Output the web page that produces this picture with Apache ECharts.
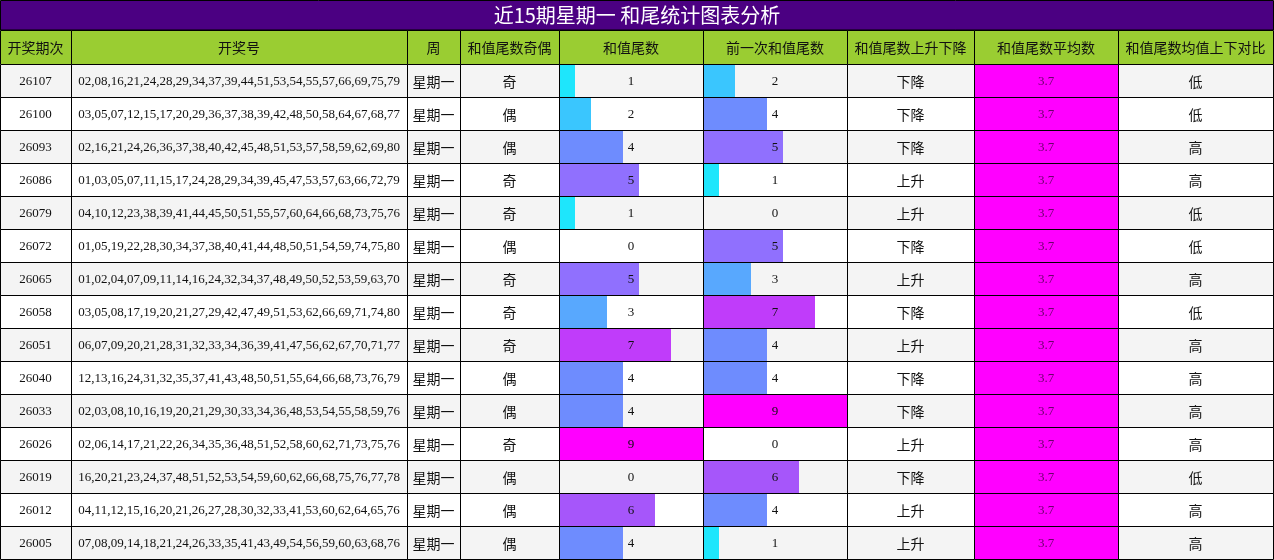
<!DOCTYPE html>
<html><head><meta charset="utf-8">
<script src="https://cdn.jsdelivr.net/npm/echarts@6/dist/echarts.min.js"></script>
<style>html,body{margin:0;padding:0;background:#fff}#c{width:1274px;height:560px}</style>
</head><body><div id="c"></div>
<script>
const headers=['开奖期次','开奖号','周','和值尾数奇偶','和值尾数','前一次和值尾数','和值尾数上升下降','和值尾数平均数','和值尾数均值上下对比'];
const periods=['26107','26100','26093','26086','26079','26072','26065','26058','26051','26040','26033','26026','26019','26012','26005'];
const numbers=['02,08,16,21,24,28,29,34,37,39,44,51,53,54,55,57,66,69,75,79','03,05,07,12,15,17,20,29,36,37,38,39,42,48,50,58,64,67,68,77','02,16,21,24,26,36,37,38,40,42,45,48,51,53,57,58,59,62,69,80','01,03,05,07,11,15,17,24,28,29,34,39,45,47,53,57,63,66,72,79','04,10,12,23,38,39,41,44,45,50,51,55,57,60,64,66,68,73,75,76','01,05,19,22,28,30,34,37,38,40,41,44,48,50,51,54,59,74,75,80','01,02,04,07,09,11,14,16,24,32,34,37,48,49,50,52,53,59,63,70','03,05,08,17,19,20,21,27,29,42,47,49,51,53,62,66,69,71,74,80','06,07,09,20,21,28,31,32,33,34,36,39,41,47,56,62,67,70,71,77','12,13,16,24,31,32,35,37,41,43,48,50,51,55,64,66,68,73,76,79','02,03,08,10,16,19,20,21,29,30,33,34,36,48,53,54,55,58,59,76','02,06,14,17,21,22,26,34,35,36,48,51,52,58,60,62,71,73,75,76','16,20,21,23,24,37,48,51,52,53,54,59,60,62,66,68,75,76,77,78','04,11,12,15,16,20,21,26,27,28,30,32,33,41,53,60,62,64,65,76','07,08,09,14,18,21,24,26,33,35,41,43,49,54,56,59,60,63,68,76'];
const weekday=Array(15).fill('星期一');
const parity=['奇','偶','偶','奇','奇','偶','奇','奇','奇','偶','偶','奇','偶','偶','偶'];
const tail=[1,2,4,5,1,0,5,3,7,4,4,9,0,6,4];
const prevTail=[2,4,5,1,0,5,3,7,4,4,9,0,6,4,1];
const trend=['下降','下降','下降','上升','上升','下降','上升','下降','上升','下降','下降','上升','下降','上升','上升'];
const avg=Array(15).fill('3.7');
const compare=['低','低','高','高','低','低','高','低','高','高','高','高','低','高','高'];

const edges=[0,71,407,460,559,703,847,974,1118,1273];
const TOP=64,ROWH=33,HEADTOP=30;
const barColors=['#ffffff','#1ee6fc','#3ac6fe','#58a8fe','#6e8cfe','#9070fe','#a656fa','#c03cfa','#dc20fc','#ff00ff'];
const serif='"Liberation Serif","DejaVu Serif",serif';
const cjk='"Noto Sans CJK SC","Noto Sans",sans-serif';
const cats=periods.map((p,i)=>String(i));

const chart=echarts.init(document.getElementById('c'));
const rowIdx=periods.map((p,i)=>[i]);

function cellRect(api,i,c){
  const a=api.coord([edges[c],i]);const b=api.coord([edges[c+1],i]);
  const h=api.size([0,1])[1];
  return {x:a[0],y:a[1]-h/2,width:b[0]-a[0],height:h};
}
const cols=[periods,numbers,weekday,parity,tail,prevTail,trend,avg,compare];
const colFont=[serif,serif,cjk,cjk,serif,serif,cjk,serif,cjk];
const colSize=[13,13,14,14,13,13,14,13,14];

const graphics=[{type:'rect',shape:{x:0.5,y:0.5,width:1273,height:29.5},style:{fill:'#4b0082',stroke:'#000',lineWidth:1}},
{type:'text',x:637,y:15,style:{text:'近15期星期一 和尾统计图表分析',fill:'#fff',font:'20px '+cjk,textAlign:'center',textVerticalAlign:'middle'}}];
headers.forEach((h,c)=>{
  graphics.push({type:'rect',shape:{x:edges[c]+0.5,y:HEADTOP+0.5,width:edges[c+1]-edges[c],height:TOP-HEADTOP},style:{fill:'#9acd32',stroke:'#000',lineWidth:1}});
  graphics.push({type:'text',x:(edges[c]+edges[c+1])/2,y:(HEADTOP+TOP)/2+1,style:{text:h,fill:'#111',font:'14px '+cjk,textAlign:'center',textVerticalAlign:'middle'}});
});

chart.setOption({
  animation:false,
  graphic:graphics,
  grid:[{left:0,right:0,top:TOP,height:ROWH*15},
        {left:edges[4],width:edges[5]-edges[4],top:TOP,height:ROWH*15},
        {left:edges[5],width:edges[6]-edges[5],top:TOP,height:ROWH*15}],
  xAxis:[{gridIndex:0,type:'value',min:0,max:1274,show:false},
         {gridIndex:1,type:'value',min:0,max:9,show:false},
         {gridIndex:2,type:'value',min:0,max:9,show:false}],
  yAxis:[0,1,2].map(g=>({gridIndex:g,type:'category',data:cats,inverse:true,show:false})),
  series:[
    {type:'custom',xAxisIndex:0,yAxisIndex:0,z:1,data:rowIdx,renderItem:(p,api)=>{
      const i=api.value(0);const ch=[];
      for(let c=0;c<9;c++){const r=cellRect(api,i,c);
        ch.push({type:'rect',shape:r,style:{fill:c===7?'#ff00ff':(i%2===0?'#f4f4f4':'#ffffff')}});}
      return {type:'group',children:ch};}},
    {type:'bar',xAxisIndex:1,yAxisIndex:1,z:2,barWidth:'100%',data:tail.map(v=>({value:v,itemStyle:{color:barColors[v]}}))},
    {type:'bar',xAxisIndex:2,yAxisIndex:2,z:2,barWidth:'100%',data:prevTail.map(v=>({value:v,itemStyle:{color:barColors[v]}}))},
    {type:'custom',xAxisIndex:0,yAxisIndex:0,z:3,data:rowIdx,renderItem:(p,api)=>{
      const i=api.value(0);const ch=[];
      for(let c=0;c<9;c++){const r=cellRect(api,i,c);
        ch.push({type:'rect',shape:{x:Math.round(r.x)+0.5,y:Math.round(r.y)+0.5,width:Math.round(r.width),height:Math.round(r.height)},style:{fill:null,stroke:'#000',lineWidth:1}});
        ch.push({type:'text',x:r.x+r.width/2,y:r.y+r.height/2+1,style:{text:String(cols[c][i]),fill:c===7?'#6a006a':'#111',font:colSize[c]+'px '+colFont[c],textAlign:'center',textVerticalAlign:'middle'}});}
      return {type:'group',children:ch};}}
  ]
});
</script></body></html>
